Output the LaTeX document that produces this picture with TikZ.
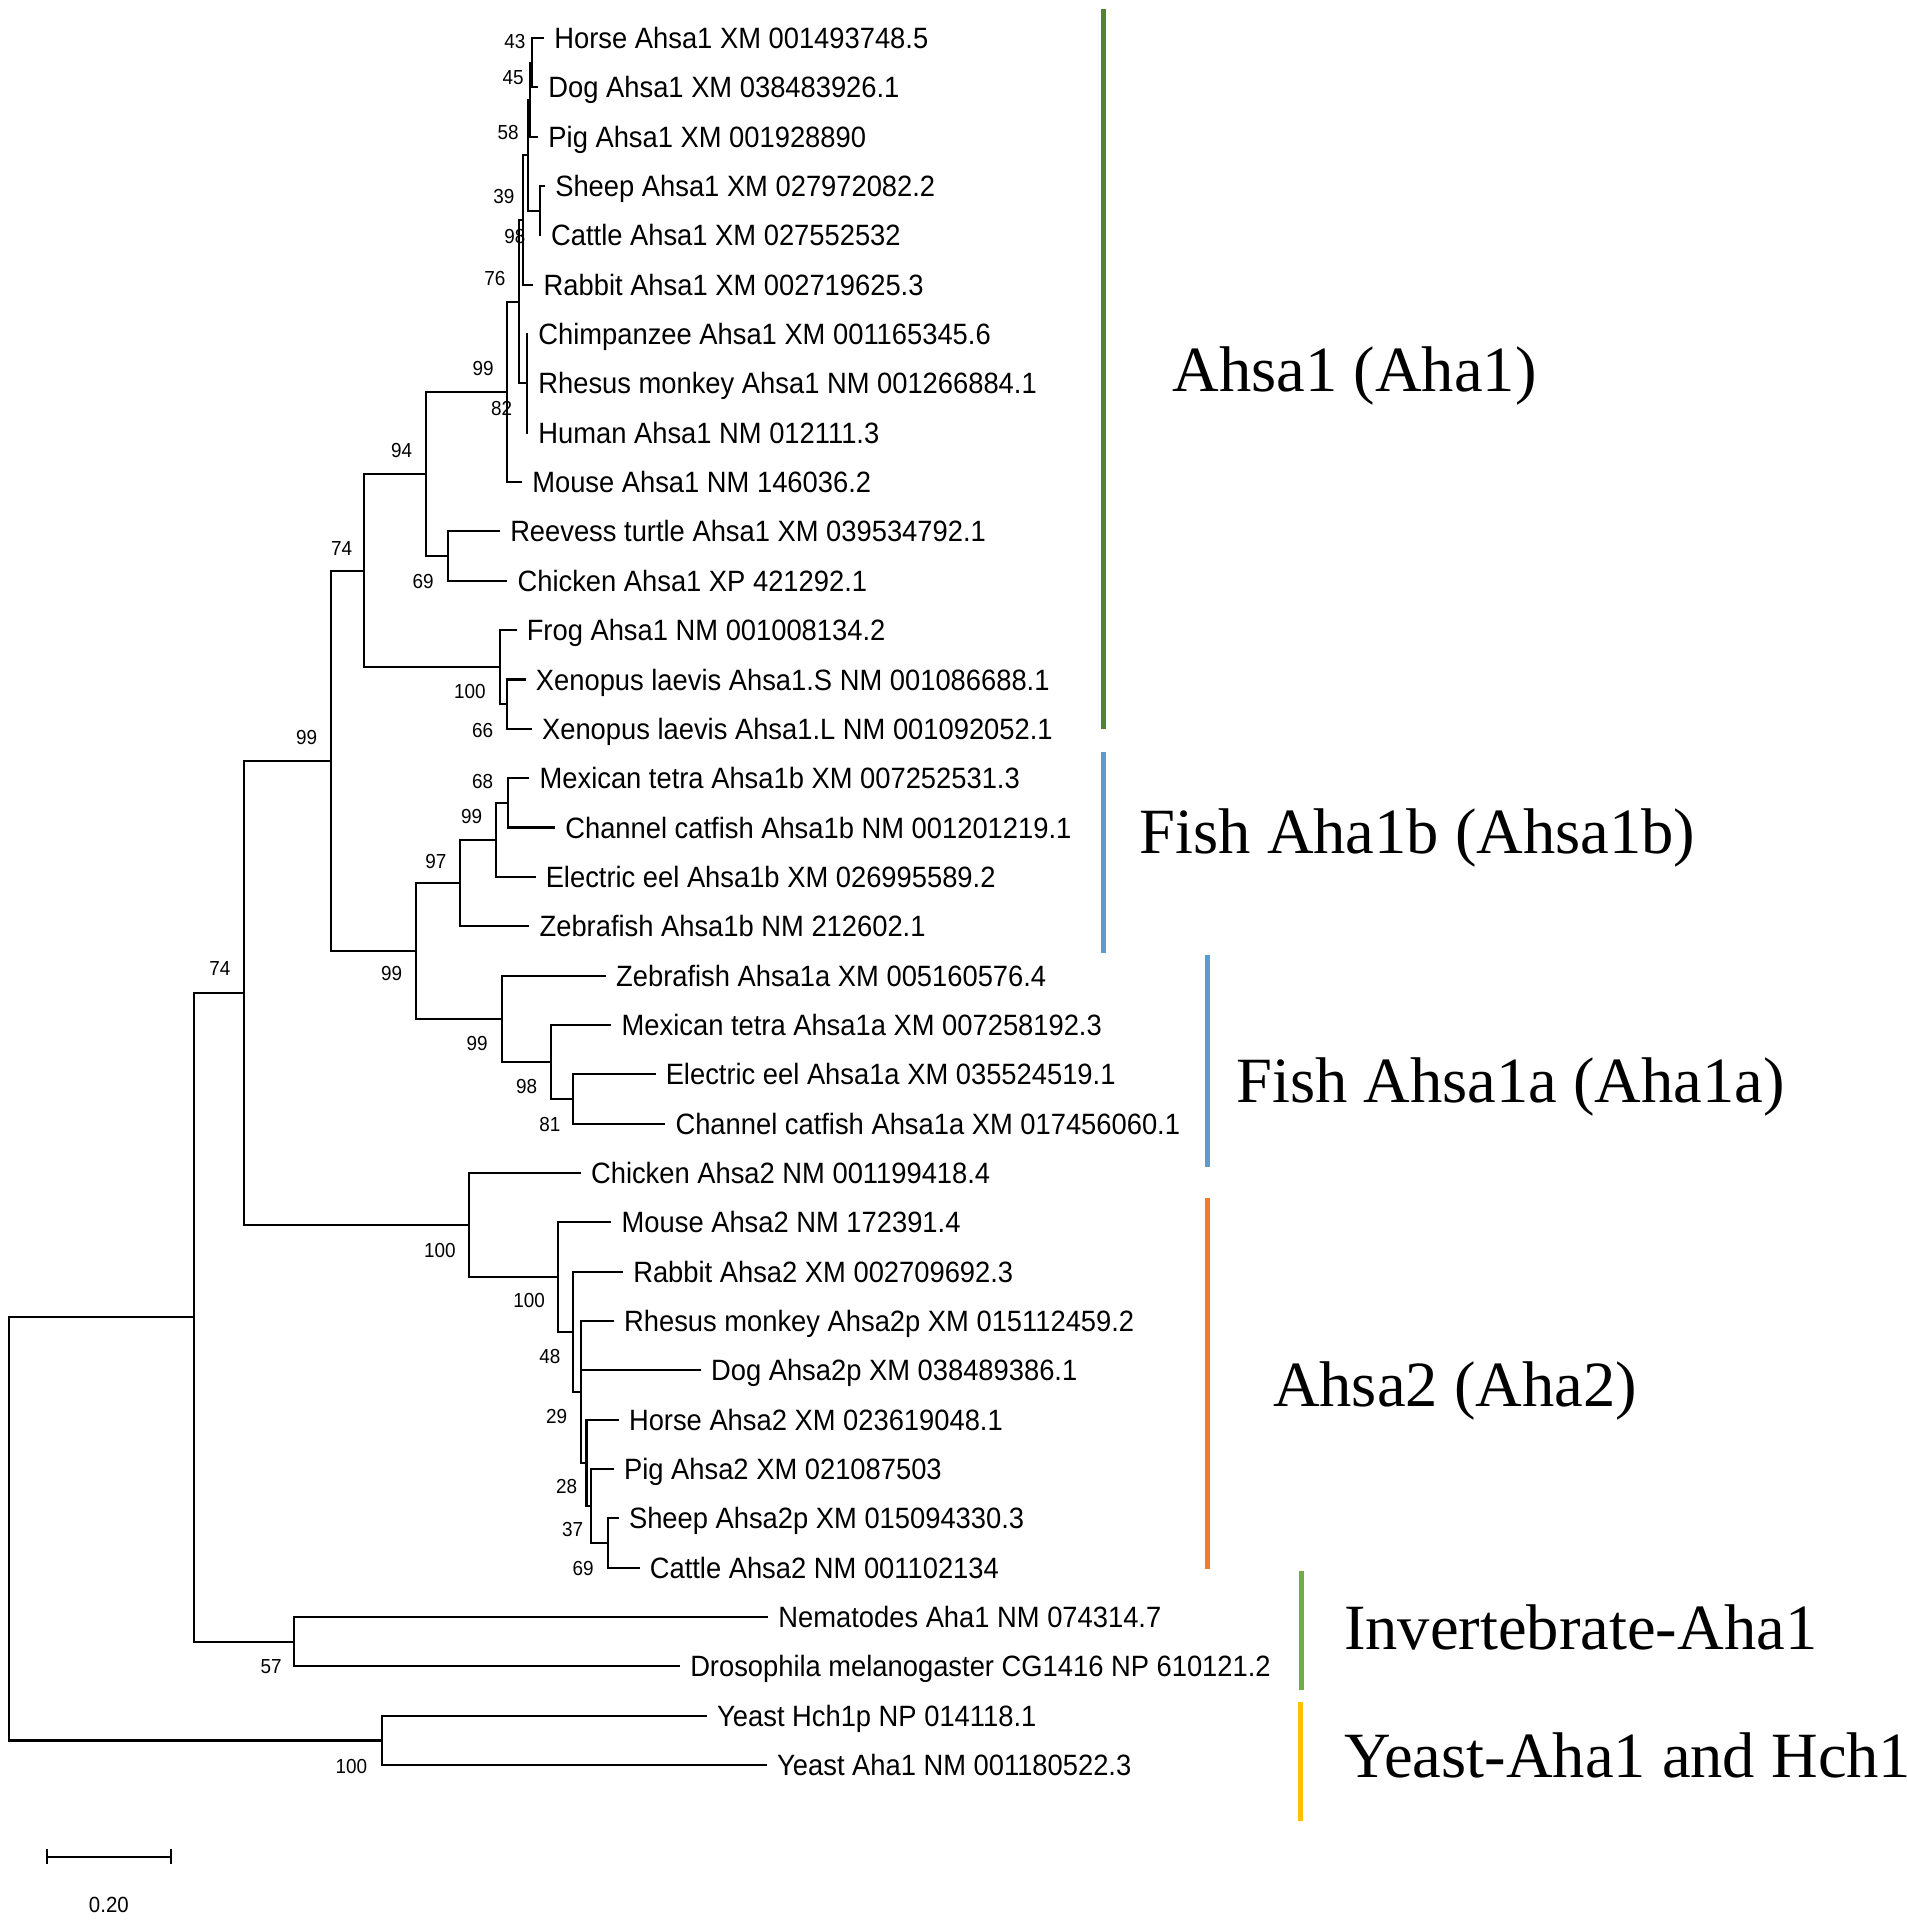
\documentclass[tikz,border=0pt]{standalone}
\usepackage{fontspec}
\setmainfont{Liberation Serif}
\newfontfamily\taxonfont[FakeStretch=0.93]{Liberation Sans}
\usetikzlibrary{arrows.meta}

\definecolor{ahsaone}{HTML}{548235}
\definecolor{fishblue}{HTML}{5B9BD5}
\definecolor{ahsatwo}{HTML}{ED7D31}
\definecolor{invgreen}{HTML}{70AD47}
\definecolor{yeastyellow}{HTML}{FFC000}

\tikzset{
	branch/.style={line width=0.17mm, line cap=rect},
	taxon/.style={anchor=west, inner xsep=0.85mm, inner ysep=0pt, text height=1.72mm, text depth=0pt,
		font=\taxonfont\fontsize{6.83pt}{8pt}\selectfont},
	boot/.style={inner sep=0pt, text height=1.19mm, text depth=0pt,
		font=\taxonfont\fontsize{4.72pt}{5pt}\selectfont},
	clade/.style={anchor=west, inner sep=0pt, text height=3.48mm, text depth=0pt,
		font=\fontsize{15pt}{17pt}\selectfont},
	cladebar/.style={line width=0.4mm},
	scalebar/.style={line width=0.15mm, {Bar[width=1.2mm]}-{Bar[width=1.2mm]}}
}

\begin{document}
\begin{tikzpicture}[x=0.1mm,y=-0.1mm]
	\useasboundingbox (0,0) rectangle (1557,1568);

	\node[taxon] (horse1) at (443.6,31.0) {Horse Ahsa1 XM 001493748.5};
	\node[taxon] (dog1) at (438.7,71.3) {Dog Ahsa1 XM 038483926.1};
	\node[taxon] (pig1) at (438.7,111.6) {Pig Ahsa1 XM 001928890};
	\node[taxon] (sheep1) at (444.3,151.9) {Sheep Ahsa1 XM 027972082.2};
	\node[taxon] (cattle1) at (440.9,192.2) {Cattle Ahsa1 XM 027552532};
	\node[taxon] (rabbit1) at (434.8,232.5) {Rabbit Ahsa1 XM 002719625.3};
	\node[taxon] (chimp1) at (430.5,272.8) {Chimpanzee Ahsa1 XM 001165345.6};
	\node[taxon] (rhesus1) at (430.5,313.1) {Rhesus monkey Ahsa1 NM 001266884.1};
	\node[taxon] (human1) at (430.5,353.4) {Human Ahsa1 NM 012111.3};
	\node[taxon] (mouse1) at (425.5,393.7) {Mouse Ahsa1 NM 146036.2};
	\node[taxon] (turtle1) at (407.5,434.0) {Reevess turtle Ahsa1 XM 039534792.1};
	\node[taxon] (chicken1) at (413.5,474.3) {Chicken Ahsa1 XP 421292.1};
	\node[taxon] (frog1) at (421.0,514.6) {Frog Ahsa1 NM 001008134.2};
	\node[taxon] (xenS) at (428.5,554.9) {Xenopus laevis Ahsa1.S NM 001086688.1};
	\node[taxon] (xenL) at (433.5,595.2) {Xenopus laevis Ahsa1.L NM 001092052.1};
	\node[taxon] (tetrab) at (431.5,635.5) {Mexican tetra Ahsa1b XM 007252531.3};
	\node[taxon] (catfishb) at (452.5,675.8) {Channel catfish Ahsa1b NM 001201219.1};
	\node[taxon] (eelb) at (436.5,716.1) {Electric eel Ahsa1b XM 026995589.2};
	\node[taxon] (zebrab) at (431.5,756.4) {Zebrafish Ahsa1b NM 212602.1};
	\node[taxon] (zebraa) at (494.0,796.7) {Zebrafish Ahsa1a XM 005160576.4};
	\node[taxon] (tetraa) at (498.5,837.0) {Mexican tetra Ahsa1a XM 007258192.3};
	\node[taxon] (eela) at (534.5,877.3) {Electric eel Ahsa1a XM 035524519.1};
	\node[taxon] (catfisha) at (542.5,917.6) {Channel catfish Ahsa1a XM 017456060.1};
	\node[taxon] (chicken2) at (473.5,957.9) {Chicken Ahsa2 NM 001199418.4};
	\node[taxon] (mouse2) at (498.5,998.2) {Mouse Ahsa2 NM 172391.4};
	\node[taxon] (rabbit2) at (508.0,1038.5) {Rabbit Ahsa2 XM 002709692.3};
	\node[taxon] (rhesus2) at (500.5,1078.8) {Rhesus monkey Ahsa2p XM 015112459.2};
	\node[taxon] (dog2) at (571.5,1119.1) {Dog Ahsa2p XM 038489386.1};
	\node[taxon] (horse2) at (504.5,1159.4) {Horse Ahsa2 XM 023619048.1};
	\node[taxon] (pig2) at (500.5,1199.7) {Pig Ahsa2 XM 021087503};
	\node[taxon] (sheep2) at (504.5,1240.0) {Sheep Ahsa2p XM 015094330.3};
	\node[taxon] (cattle2) at (521.5,1280.3) {Cattle Ahsa2 NM 001102134};
	\node[taxon] (worm) at (626.5,1320.6) {Nematodes Aha1 NM 074314.7};
	\node[taxon] (fly) at (554.5,1360.9) {Drosophila melanogaster CG1416 NP 610121.2};
	\node[taxon] (hch1) at (576.5,1401.2) {Yeast Hch1p NP 014118.1};
	\node[taxon] (yaha1) at (625.5,1441.5) {Yeast Aha1 NM 001180522.3};

	\coordinate (m1) at (434.1,51.2);
	\coordinate (m2) at (432.7,81.4);
	\coordinate (m3) at (440.9,172.1);
	\coordinate (m4) at (431.4,126.8);
	\coordinate (m5) at (427.2,179.6);
	\coordinate (prim) at (430.5,313.1);
	\coordinate (m6) at (424.0,246.4);
	\coordinate (m7) at (414.2,320.0);
	\coordinate (birds) at (366.0,454.2);
	\coordinate (m8) at (347.8,387.1);
	\coordinate (xen) at (414.2,575.1);
	\coordinate (frogs) at (408.2,544.8);
	\coordinate (m9) at (297.5,466.0);
	\coordinate (fb1) at (414.5,655.7);
	\coordinate (fb2) at (405.0,685.9);
	\coordinate (fb3) at (375.6,721.2);
	\coordinate (fa1) at (468.1,897.5);
	\coordinate (fa2) at (449.9,867.2);
	\coordinate (fa3) at (409.6,832.0);
	\coordinate (fish) at (339.6,776.6);
	\coordinate (vert) at (270.5,621.3);
	\coordinate (q6) at (496.7,1260.2);
	\coordinate (q5) at (482.3,1230.0);
	\coordinate (q4) at (479.0,1194.7);
	\coordinate (q3) at (474.6,1136.8);
	\coordinate (q2) at (468.1,1087.6);
	\coordinate (q1) at (455.9,1042.9);
	\coordinate (aha2) at (383.2,1000.4);
	\coordinate (core) at (199.0,810.9);
	\coordinate (inv) at (240.3,1340.8);
	\coordinate (anim) at (158.5,1075.8);
	\coordinate (yeast) at (311.8,1421.4);
	\coordinate (root) at (7.0,1248.6);

	\draw[branch] (m1) |- (horse1);
	\draw[branch] (m1) |- (dog1);
	\draw[branch] (m2) |- (m1);
	\draw[branch] (m2) |- (pig1);
	\draw[branch] (m3) |- (sheep1);
	\draw[branch] (m3) |- (cattle1);
	\draw[branch] (m4) |- (m2);
	\draw[branch] (m4) |- (m3);
	\draw[branch] (m5) |- (m4);
	\draw[branch] (m5) |- (rabbit1);
	\draw[branch] (prim) |- (chimp1);
	\draw[branch] (prim) |- (rhesus1);
	\draw[branch] (prim) |- (human1);
	\draw[branch] (m6) |- (m5);
	\draw[branch] (m6) |- (prim);
	\draw[branch] (m7) |- (m6);
	\draw[branch] (m7) |- (mouse1);
	\draw[branch] (birds) |- (turtle1);
	\draw[branch] (birds) |- (chicken1);
	\draw[branch] (m8) |- (m7);
	\draw[branch] (m8) |- (birds);
	\draw[branch] (xen) |- (xenS);
	\draw[branch] (xen) |- (xenL);
	\draw[branch] (frogs) |- (frog1);
	\draw[branch] (frogs) |- (xen);
	\draw[branch] (m9) |- (m8);
	\draw[branch] (m9) |- (frogs);
	\draw[branch] (fb1) |- (tetrab);
	\draw[branch] (fb1) |- (catfishb);
	\draw[branch] (fb2) |- (fb1);
	\draw[branch] (fb2) |- (eelb);
	\draw[branch] (fb3) |- (fb2);
	\draw[branch] (fb3) |- (zebrab);
	\draw[branch] (fa1) |- (eela);
	\draw[branch] (fa1) |- (catfisha);
	\draw[branch] (fa2) |- (tetraa);
	\draw[branch] (fa2) |- (fa1);
	\draw[branch] (fa3) |- (zebraa);
	\draw[branch] (fa3) |- (fa2);
	\draw[branch] (fish) |- (fb3);
	\draw[branch] (fish) |- (fa3);
	\draw[branch] (vert) |- (m9);
	\draw[branch] (vert) |- (fish);
	\draw[branch] (q6) |- (sheep2);
	\draw[branch] (q6) |- (cattle2);
	\draw[branch] (q5) |- (pig2);
	\draw[branch] (q5) |- (q6);
	\draw[branch] (q4) |- (horse2);
	\draw[branch] (q4) |- (q5);
	\draw[branch] (q3) |- (rhesus2);
	\draw[branch] (q3) |- (dog2);
	\draw[branch] (q3) |- (q4);
	\draw[branch] (q2) |- (rabbit2);
	\draw[branch] (q2) |- (q3);
	\draw[branch] (q1) |- (mouse2);
	\draw[branch] (q1) |- (q2);
	\draw[branch] (aha2) |- (chicken2);
	\draw[branch] (aha2) |- (q1);
	\draw[branch] (core) |- (vert);
	\draw[branch] (core) |- (aha2);
	\draw[branch] (inv) |- (worm);
	\draw[branch] (inv) |- (fly);
	\draw[branch] (anim) |- (core);
	\draw[branch] (anim) |- (inv);
	\draw[branch] (yeast) |- (hch1);
	\draw[branch] (yeast) |- (yaha1);
	\draw[branch] (root) |- (anim);
	\draw[branch] (root) |- (yeast);

	\node[boot] (bs1) at (420.5,34.0) {43};
	\node[boot] (bs2) at (419.1,63.0) {45};
	\node[boot] (bs3) at (415.0,108.0) {58};
	\node[boot] (bs4) at (411.5,160.5) {39};
	\node[boot] (bs5) at (420.5,193.0) {98};
	\node[boot] (bs6) at (404.2,227.0) {76};
	\node[boot] (bs7) at (394.6,300.7) {99};
	\node[boot] (bs8) at (409.7,333.2) {82};
	\node[boot] (bs9) at (328.0,367.5) {94};
	\node[boot] (bs10) at (279.0,447.7) {74};
	\node[boot] (bs11) at (345.6,474.9) {69};
	\node[boot] (bs12) at (383.7,564.7) {100};
	\node[boot] (bs13) at (394.1,596.0) {66};
	\node[boot] (bs14) at (250.4,602.0) {99};
	\node[boot] (bs15) at (394.1,637.7) {68};
	\node[boot] (bs16) at (385.1,666.8) {99};
	\node[boot] (bs17) at (356.0,703.0) {97};
	\node[boot] (bs18) at (319.8,794.7) {99};
	\node[boot] (bs19) at (389.7,851.8) {99};
	\node[boot] (bs20) at (430.0,886.7) {98};
	\node[boot] (bs21) at (449.0,917.7) {81};
	\node[boot] (bs22) at (179.6,790.6) {74};
	\node[boot] (bs23) at (359.2,1020.6) {100};
	\node[boot] (bs24) at (432.2,1062.0) {100};
	\node[boot] (bs25) at (449.0,1107.7) {48};
	\node[boot] (bs26) at (454.5,1156.7) {29};
	\node[boot] (bs27) at (462.7,1213.8) {28};
	\node[boot] (bs28) at (467.6,1249.2) {37};
	\node[boot] (bs29) at (476.3,1280.5) {69};
	\node[boot] (bs30) at (221.4,1360.8) {57};
	\node[boot] (bs31) at (287.0,1442.0) {100};

	\coordinate (sbl) at (37.6,1516.4);
	\coordinate (sbr) at (140.2,1516.4);
	\draw[scalebar] (sbl) -- (sbr);
	\node[boot, font=\taxonfont\fontsize{5.1pt}{6pt}\selectfont, text height=1.3mm] (sblabel) at (88.9,1555.4) {0.20};

	\coordinate (c1a) at (901,7);
	\coordinate (c1b) at (901,595);
	\coordinate (c2a) at (901,614);
	\coordinate (c2b) at (901,778);
	\coordinate (c3a) at (986,780);
	\coordinate (c3b) at (986,953);
	\coordinate (c4a) at (986,978);
	\coordinate (c4b) at (986,1281);
	\coordinate (c5a) at (1063,1283);
	\coordinate (c5b) at (1063,1380);
	\coordinate (c6a) at (1062,1390);
	\coordinate (c6b) at (1062,1487);
	\draw[cladebar, ahsaone] (c1a) -- (c1b);
	\draw[cladebar, fishblue] (c2a) -- (c2b);
	\draw[cladebar, fishblue] (c3a) -- (c3b);
	\draw[cladebar, ahsatwo] (c4a) -- (c4b);
	\draw[cladebar, invgreen] (c5a) -- (c5b);
	\draw[cladebar, yeastyellow] (c6a) -- (c6b);

	\node[clade] (lab1) at (957,302) {Ahsa1 (Aha1)};
	\node[clade] (lab2) at (930,680) {Fish Aha1b (Ahsa1b)};
	\node[clade] (lab3) at (1009,883) {Fish Ahsa1a (Aha1a)};
	\node[clade] (lab4) at (1039,1131) {Ahsa2 (Aha2)};
	\node[clade] (lab5) at (1097,1330) {Invertebrate-Aha1};
	\node[clade] (lab6) at (1097,1434) {Yeast-Aha1 and Hch1};
\end{tikzpicture}
\end{document}
